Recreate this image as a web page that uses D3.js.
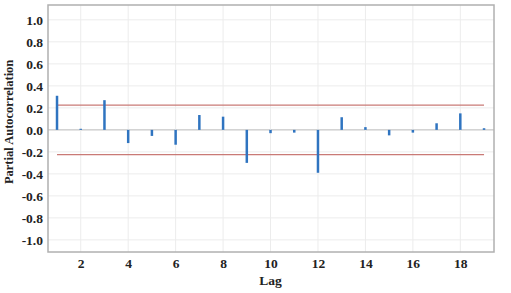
<!DOCTYPE html>
<html>
<head>
<meta charset="utf-8">
<script src="https://cdn.jsdelivr.net/npm/d3@7"></script>
<style>
  body { margin: 0; background: #fff; }
  text { font-family: "Liberation Serif", "DejaVu Serif", serif; font-weight: bold; fill: #222; }
</style>
</head>
<body>
<div id="chart"></div>
<script>
// partial autocorrelation per lag
var lags = [1, 2, 3, 4, 5, 6, 7, 8, 9, 10, 11, 12, 13, 14, 15, 16, 17, 18, 19];
var pacf = [0.31, 0.01, 0.27, -0.12, -0.055, -0.135, 0.135, 0.12, -0.30, -0.03, -0.025, -0.39, 0.115, 0.025, -0.05, -0.025, 0.06, 0.15, 0.015];
var confLimits = [0.225, -0.225];
var xTicks = [2, 4, 6, 8, 10, 12, 14, 16, 18];
var yTicks = [-1.0, -0.8, -0.6, -0.4, -0.2, 0.0, 0.2, 0.4, 0.6, 0.8, 1.0];

var margin = { top: 5, right: 17, bottom: 41, left: 48 },
    width = 511 - margin.left - margin.right,
    height = 293 - margin.top - margin.bottom;

var svg = d3.select("#chart")
    .append("svg")
    .attr("width", 511)
    .attr("height", 293);

var g = svg.append("g")
    .attr("transform", "translate(" + margin.left + "," + margin.top + ")");

var x = d3.scaleLinear().domain([0.62, 19.42]).range([0, width]);
var y = d3.scaleLinear().domain([-1.11, 1.135]).range([height, 0]);

// grid
g.selectAll(".hgrid")
    .data(yTicks)
    .enter().append("line")
    .attr("x1", 0).attr("x2", width)
    .attr("y1", d => y(d)).attr("y2", d => y(d))
    .attr("stroke", d => d === 0 ? "#b8b8b8" : "#ececec")
    .attr("stroke-width", 1);

g.selectAll(".vgrid")
    .data(xTicks)
    .enter().append("line")
    .attr("x1", d => x(d)).attr("x2", d => x(d))
    .attr("y1", 0).attr("y2", height)
    .attr("stroke", "#ececec")
    .attr("stroke-width", 1);

// confidence limits
g.selectAll(".conf")
    .data(confLimits)
    .enter().append("line")
    .attr("x1", x(lags[0])).attr("x2", x(lags[lags.length - 1]))
    .attr("y1", d => y(d)).attr("y2", d => y(d))
    .attr("stroke", "#c97a76")
    .attr("stroke-width", 1.3);

// spikes
g.selectAll(".spike")
    .data(lags)
    .enter().append("line")
    .attr("x1", d => x(d)).attr("x2", d => x(d))
    .attr("y1", y(0))
    .attr("y2", (d, i) => y(pacf[i]))
    .attr("stroke", "#2f74c0")
    .attr("stroke-width", 2.5);

// frame
g.append("rect")
    .attr("width", width).attr("height", height)
    .attr("fill", "none")
    .attr("stroke", "#b0b0b0")
    .attr("stroke-width", 1.5);

// axes
var yAxis = g.append("g")
    .call(d3.axisLeft(y).tickValues(yTicks)
        .tickFormat(d => d3.format(".1f")(d).replace("\u2212", "-"))
        .tickSize(0).tickPadding(5));
yAxis.select(".domain").remove();
yAxis.selectAll("text").style("font-size", "13.5px").attr("fill", "#222");

var xAxis = g.append("g")
    .attr("transform", "translate(0," + height + ")")
    .call(d3.axisBottom(x).tickValues(xTicks).tickFormat(d3.format("d")).tickSize(0).tickPadding(6));
xAxis.select(".domain").remove();
xAxis.selectAll("text").style("font-size", "13.5px").attr("fill", "#222");

// axis titles
svg.append("text")
    .attr("transform", "translate(13," + (margin.top + y(0) - 8) + ") rotate(-90)")
    .attr("text-anchor", "middle")
    .style("font-size", "12.5px")
    .text("Partial Autocorrelation");

svg.append("text")
    .attr("x", margin.left + x(10))
    .attr("y", 285)
    .attr("text-anchor", "middle")
    .style("font-size", "13.5px")
    .text("Lag");
</script>
</body>
</html>
